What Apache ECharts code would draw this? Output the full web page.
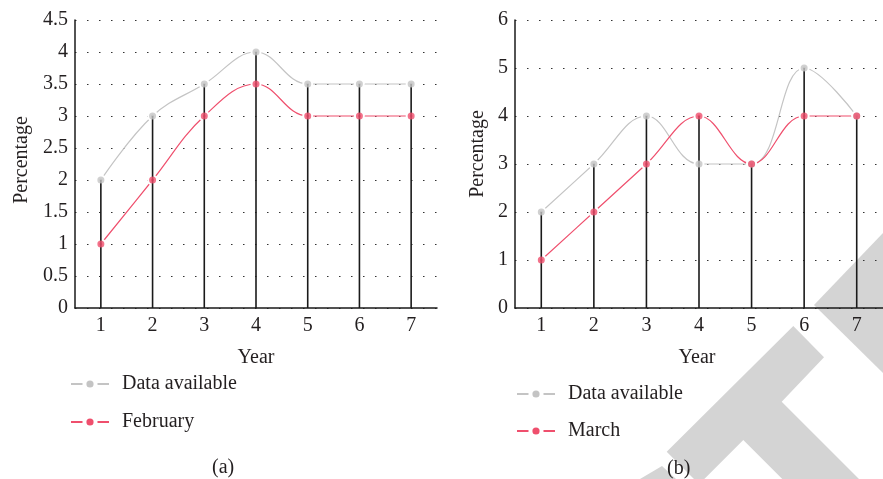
<!DOCTYPE html>
<html>
<head>
<meta charset="utf-8">
<script src="https://cdn.jsdelivr.net/npm/echarts@6/dist/echarts.min.js"></script>
<style>
html,body{margin:0;padding:0;background:#fff;}
#c{width:883px;height:479px;}
</style>
</head>
<body>
<div id="c"></div>
<script>
// ---- data ----
const years = ['1','2','3','4','5','6','7'];
const availableA = [2, 3, 3.5, 4, 3.5, 3.5, 3.5];
const february = [1, 2, 3, 3.5, 3, 3, 3];
const availableB = [2, 3, 4, 3, 3, 5, 4];
const march = [1, 2, 3, 4, 3, 4, 4];
const yTicksA = {min: 0, max: 4.5, interval: 0.5};
const yTicksB = {min: 0, max: 6, interval: 1};

const FONT = '"Liberation Serif", "DejaVu Serif", serif';
const FS = 20;
const TXT = '#231f20';
const GRAY = '#c4c4c4';
const RED = '#ef4f6d';

const stemsA = availableA.map((v, i) => Math.max(v, february[i]));
const stemsB = availableB.map((v, i) => Math.max(v, march[i]));

function lineSeries(name, data, color, idx) {
  return {
    name: name, type: 'line', data: data, xAxisIndex: idx, yAxisIndex: idx,
    smooth: 0.4, z: 1,
    symbol: 'circle', symbolSize: 7,
    lineStyle: {color: color, width: 1.2},
    itemStyle: {color: color, borderColor: '#fff', borderWidth: 4},
    emphasis: {disabled: true}
  };
}
function markerSeries(name, data, color, idx) {
  return {
    name: name, type: 'scatter', data: data, xAxisIndex: idx, yAxisIndex: idx,
    symbol: 'circle', symbolSize: 7, z: 4,
    itemStyle: {color: color},
    emphasis: {disabled: true}
  };
}
function stemSeries(data, idx) {
  return {
    type: 'bar', data: data, xAxisIndex: idx, yAxisIndex: idx,
    barWidth: 1.6, z: 3,
    itemStyle: {color: '#1a1a1a'},
    emphasis: {disabled: true}
  };
}
function xAxis(idx, namePad) {
  return {
    type: 'category', data: years, gridIndex: idx,
    name: 'Year', nameLocation: 'middle', nameGap: 40,
    nameTextStyle: {fontFamily: FONT, fontSize: FS, color: TXT, padding: namePad},
    axisLine: {lineStyle: {color: '#1a1a1a', width: 1.5}},
    axisTick: {show: false},
    axisLabel: {fontFamily: FONT, fontSize: FS, color: TXT, margin: 8},
    splitLine: {show: false}
  };
}
function yAxis(idx, ticks, gap, pad) {
  return {
    type: 'value', gridIndex: idx, min: ticks.min, max: ticks.max, interval: ticks.interval,
    name: 'Percentage', nameLocation: 'middle', nameGap: gap,
    nameTextStyle: {fontFamily: FONT, fontSize: FS, color: TXT, padding: pad},
    axisLine: {show: true, lineStyle: {color: '#1a1a1a', width: 1.5}},
    axisTick: {show: false},
    axisLabel: {fontFamily: FONT, fontSize: FS, color: TXT, margin: 7},
    splitLine: {show: true, lineStyle: {color: '#333', width: 1.2, type: [1.5, 10.5]}}
  };
}
function legend(left, top, names, gap) {
  return {
    orient: 'vertical', left: left, top: top, data: names, padding: 0,
    itemWidth: 38, itemHeight: 14, itemGap: gap,
    itemStyle: {borderColor: '#fff', borderWidth: 4},
    textStyle: {fontFamily: FONT, fontSize: FS, color: TXT, padding: [0, 0, 0, 8]},
    selectedMode: false
  };
}

const chart = echarts.init(document.getElementById('c'), null, {renderer: 'canvas'});
chart.setOption({
  animation: false,
  backgroundColor: '#fff',
  grid: [
    {left: 75, top: 20, width: 362, height: 288},
    {left: 515, top: 20, width: 378, height: 288}
  ],
  xAxis: [xAxis(0, [0, 0, 0, 0]), xAxis(1, [0, 4, 0, 0])],
  yAxis: [yAxis(0, yTicksA, 43, [0, 0, 0, 8]), yAxis(1, yTicksB, 27, [0, 0, 0, 20])],
  legend: [
    legend(70, 374, ['Data available', 'February'], 18),
    legend(516, 384, ['Data available', 'March'], 17)
  ],
  graphic: [
    {type: 'polygon', z: -10, shape: {points: [[666.7,451.7],[793.3,326],[824,357.3],[781.7,401.7],[859,479],[782.3,479],[743.3,440],[704.3,479],[694,479]]}, style: {fill: '#d4d4d4'}},
    {type: 'polygon', z: -10, shape: {points: [[640,479],[662,466],[676,479]]}, style: {fill: '#d4d4d4'}},
    {type: 'polygon', z: -10, shape: {points: [[814,305],[883,233],[883,373]]}, style: {fill: '#d4d4d4'}},
    {type: 'text', left: 212, top: 458, z: 10, style: {text: '(a)', font: FS + 'px ' + FONT, fill: TXT}},
    {type: 'text', left: 667, top: 459, z: 10, style: {text: '(b)', font: FS + 'px ' + FONT, fill: TXT}}
  ],
  series: [
    lineSeries('Data available', availableA, GRAY, 0),
    lineSeries('February', february, RED, 0),
    stemSeries(stemsA, 0),
    markerSeries('Data available', availableA, GRAY, 0),
    markerSeries('February', february, RED, 0),
    lineSeries('Data available', availableB, GRAY, 1),
    lineSeries('March', march, RED, 1),
    stemSeries(stemsB, 1),
    markerSeries('Data available', availableB, GRAY, 1),
    markerSeries('March', march, RED, 1)
  ]
});
</script>
</body>
</html>
